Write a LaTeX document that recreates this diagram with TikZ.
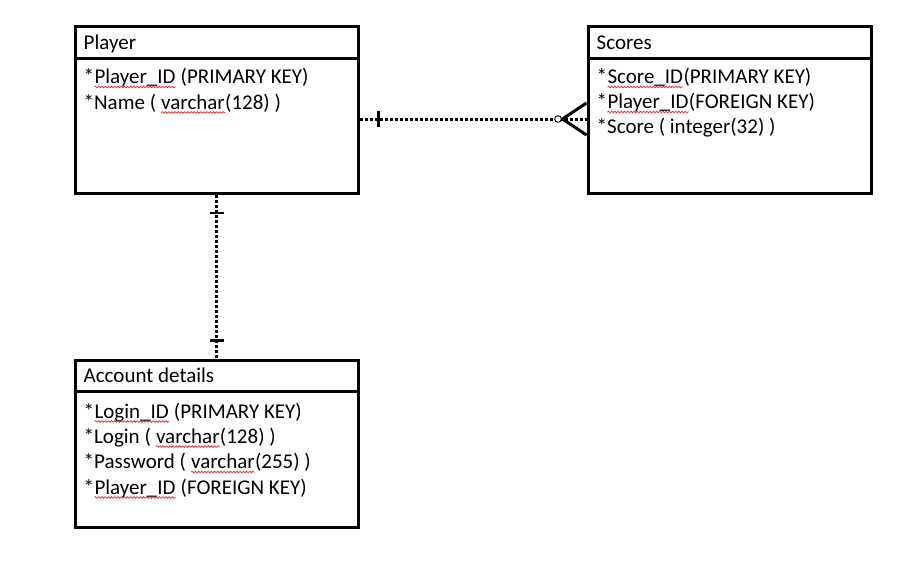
\documentclass[tikz,border=0pt]{standalone}
\usepackage{fontspec}
\setmainfont{Carlito}
\usetikzlibrary{decorations.pathmorphing}

\definecolor{spellred}{RGB}{225,50,50}

% word flagged by the spell checker: red wavy underline
\newcommand\spellmark[1]{\tikz[baseline=(sw.base),x=1pt,y=1pt]{%
  \node[inner sep=0pt,outer sep=0pt,anchor=base](sw){#1};%
  \draw[spellred,line width=0.75pt,decorate,
        decoration={snake,amplitude=0.8pt,segment length=3.2pt}]
    ([yshift=-3.5pt]sw.base west)--([yshift=-3.5pt]sw.base east);}}

\tikzset{
  entity/.style={draw,line width=3pt,minimum width=283pt,minimum height=167pt,inner sep=0pt},
  divider/.style={line width=3pt},
  label/.style={anchor=base west,inner sep=0pt,font=\fontsize{21}{25}\selectfont},
  relation/.style={line width=3pt,dash pattern=on 3pt off 2pt},
  tickmark/.style={line width=2.6pt},
  crow/.style={line width=3pt},
}

\begin{document}
\begin{tikzpicture}[x=1pt,y=-1pt]
\useasboundingbox (0,0) rectangle (920,568);

% entities
\node[entity] (player)  at (216.5,110) {};
\node[entity] (scores)  at (729.5,110) {};
\node[entity] (account) at (216.5,443.5) {};

\draw[divider] ([yshift=-33pt]player.north west) -- ([yshift=-33pt]player.north east);
\draw[divider] ([yshift=-33pt]scores.north west) -- ([yshift=-33pt]scores.north east);
\draw[divider] ([yshift=-33pt]account.north west) -- ([yshift=-33pt]account.north east);

% Player
\node[label] (playerT)  at ([xshift=10pt,yshift=-24pt]player.north west) {Player};
\node[label] (playerA)  at ([xshift=10pt,yshift=-58.5pt]player.north west) {*\spellmark{Player\_ID} (PRIMARY KEY)};
\node[label] (playerB)  at ([xshift=10pt,yshift=-84pt]player.north west) {*Name ( \spellmark{varchar}(128) )};

% Scores
\node[label] (scoresT)  at ([xshift=10pt,yshift=-24pt]scores.north west) {Scores};
\node[label] (scoresA)  at ([xshift=10pt,yshift=-58.5pt]scores.north west) {*\spellmark{Score\_ID}(PRIMARY KEY)};
\node[label] (scoresB)  at ([xshift=10pt,yshift=-83.5pt]scores.north west) {*\spellmark{Player\_ID}(FOREIGN KEY)};
\node[label] (scoresC)  at ([xshift=10pt,yshift=-108.5pt]scores.north west) {*Score ( integer(32) )};

% Account details
\node[label] (accountT) at ([xshift=10pt,yshift=-23.5pt]account.north west) {Account details};
\node[label] (accountA) at ([xshift=10pt,yshift=-59.5pt]account.north west) {*\spellmark{Login\_ID} (PRIMARY KEY)};
\node[label] (accountB) at ([xshift=10pt,yshift=-84.5pt]account.north west) {*Login ( \spellmark{varchar}(128) )};
\node[label] (accountC) at ([xshift=10pt,yshift=-110pt]account.north west) {*Password ( \spellmark{varchar}(255) )};
\node[label] (accountD) at ([xshift=10pt,yshift=-135.5pt]account.north west) {*\spellmark{Player\_ID} (FOREIGN KEY)};

% Player -- Scores : one to zero-or-many
\draw[relation] ([yshift=-9pt]player.east) -- ([yshift=-9pt]scores.west);
\draw[tickmark] ([xshift=19pt,yshift=-1pt]player.east) -- ([xshift=19pt,yshift=-17pt]player.east);
\draw[crow] ([yshift=7pt]scores.west) -- ([xshift=-24pt,yshift=-9pt]scores.west) -- ([yshift=-25pt]scores.west);
\draw[line width=0.9pt,fill=white] ([xshift=-28.5pt,yshift=-9pt]scores.west) circle[radius=3.3pt];

% Player -- Account details : one to one
\draw[relation] (player.south) -- (account.north);
\draw[tickmark] ([xshift=-7pt,yshift=-18pt]player.south) -- ([xshift=7pt,yshift=-18pt]player.south);
\draw[tickmark] ([xshift=-7pt,yshift=18pt]account.north) -- ([xshift=7pt,yshift=18pt]account.north);
\end{tikzpicture}
\end{document}
